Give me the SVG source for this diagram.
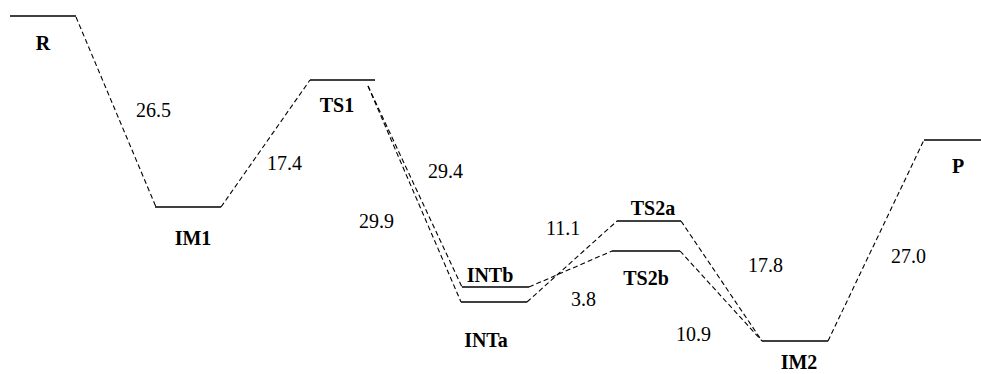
<svg xmlns="http://www.w3.org/2000/svg" width="981" height="374" viewBox="0 0 981 374">
<style>
.lvl{stroke:#000;stroke-width:1.4;fill:none}
.con{stroke:#000;stroke-width:1.1;stroke-dasharray:5,3;fill:none}
.lab{font-family:"Liberation Serif","Times New Roman",serif;font-size:20px;font-weight:bold;fill:#000}
.num{font-family:"Liberation Serif","Times New Roman",serif;font-size:20px;fill:#000}
</style>
<rect width="981" height="374" fill="#fff"/>
<g id="connectors">
<line class="con" x1="76" y1="17" x2="156" y2="207"/>
<line class="con" x1="221" y1="207" x2="310" y2="80"/>
<line class="con" x1="368" y1="86" x2="462" y2="287"/>
<line class="con" x1="368" y1="86" x2="461" y2="302"/>
<line class="con" x1="529" y1="287" x2="612" y2="251"/>
<line class="con" x1="527" y1="302" x2="617" y2="221"/>
<line class="con" x1="681" y1="221" x2="762" y2="341"/>
<line class="con" x1="680" y1="251" x2="762" y2="341"/>
<line class="con" x1="828" y1="341" x2="924" y2="140"/>
<text class="num" x="136" y="117">26.5</text>
<text class="num" x="267" y="170">17.4</text>
<text class="num" x="428" y="178">29.4</text>
<text class="num" x="359" y="228">29.9</text>
<text class="num" x="546" y="235">11.1</text>
<text class="num" x="571" y="306">3.8</text>
<text class="num" x="676" y="341">10.9</text>
<text class="num" x="748" y="272">17.8</text>
<text class="num" x="891" y="263">27.0</text>
</g>
<g id="R"><line class="lvl" x1="10" y1="16" x2="76" y2="16"/><text class="lab" x="43" y="50" text-anchor="middle">R</text></g>
<g id="IM1"><line class="lvl" x1="155" y1="207" x2="221" y2="207"/><text class="lab" x="193" y="245" text-anchor="middle">IM1</text></g>
<g id="TS1"><line class="lvl" x1="310" y1="80" x2="375" y2="80"/><text class="lab" x="337" y="112" text-anchor="middle">TS1</text></g>
<g id="INTb"><line class="lvl" x1="462" y1="287" x2="529" y2="287"/><text class="lab" x="490" y="282" text-anchor="middle">INTb</text></g>
<g id="INTa"><line class="lvl" x1="461" y1="302" x2="527" y2="302"/><text class="lab" x="486" y="347" text-anchor="middle">INTa</text></g>
<g id="TS2a"><line class="lvl" x1="617" y1="221" x2="681" y2="221"/><text class="lab" x="653" y="215" text-anchor="middle">TS2a</text></g>
<g id="TS2b"><line class="lvl" x1="612" y1="251" x2="680" y2="251"/><text class="lab" x="646" y="285" text-anchor="middle">TS2b</text></g>
<g id="IM2"><line class="lvl" x1="762" y1="341" x2="828" y2="341"/><text class="lab" x="799" y="369" text-anchor="middle">IM2</text></g>
<g id="P"><line class="lvl" x1="924" y1="140" x2="981" y2="140"/><text class="lab" x="958" y="173" text-anchor="middle">P</text></g>
</svg>
